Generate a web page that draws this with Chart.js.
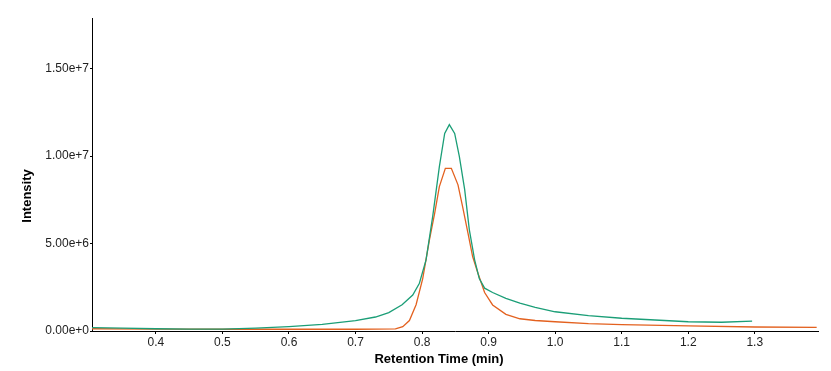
<!DOCTYPE html>
<html>
<head>
<meta charset="utf-8">
<script src="https://cdn.jsdelivr.net/npm/chart.js@4/dist/chart.umd.min.js"></script>
<style>
  html, body { margin: 0; padding: 0; background: #fff; }
  #wrap { width: 831px; height: 371px; }
</style>
</head>
<body>
<div id="wrap"><canvas id="myChart" width="831" height="371"></canvas></div>
<script>
// green trace
var greenTime = [0.304, 0.35, 0.40, 0.45, 0.50, 0.55, 0.60, 0.65, 0.70, 0.73, 0.75, 0.77, 0.786, 0.796, 0.806, 0.816, 0.826, 0.834, 0.841, 0.849, 0.856, 0.864, 0.871, 0.879, 0.886, 0.894, 0.906, 0.926, 0.947, 0.97, 1.00, 1.05, 1.10, 1.15, 1.20, 1.25, 1.296]
var greenIntensity = [1.9e5, 1.6e5, 1.3e5, 1.1e5, 1.1e5, 1.6e5, 2.5e5, 3.8e5, 5.9e5, 8.0e5, 1.05e6, 1.5e6, 2.06e6, 2.73e6, 4.07e6, 6.55e6, 9.4e6, 1.13e7, 1.18e7, 1.13e7, 9.98e6, 8.1e6, 5.8e6, 4.07e6, 3.0e6, 2.45e6, 2.2e6, 1.87e6, 1.59e6, 1.35e6, 1.1e6, 8.8e5, 7.3e5, 6.3e5, 5.3e5, 5.0e5, 5.6e5]

// orange trace
var orangeTime = [0.304, 0.40, 0.50, 0.60, 0.70, 0.76, 0.771, 0.781, 0.791, 0.801, 0.811, 0.819, 0.826, 0.835, 0.844, 0.854, 0.861, 0.869, 0.876, 0.884, 0.894, 0.906, 0.926, 0.947, 0.97, 1.00, 1.05, 1.10, 1.20, 1.30, 1.393]
var orangeIntensity = [1.3e5, 1.1e5, 1.0e5, 1.0e5, 1.0e5, 1.2e5, 2.5e5, 6.0e5, 1.5e6, 3.0e6, 5.2e6, 6.74e6, 8.26e6, 9.3e6, 9.3e6, 8.36e6, 7.1e6, 5.6e6, 4.26e6, 3.3e6, 2.2e6, 1.49e6, 9.5e5, 7.0e5, 6.0e5, 5.3e5, 4.2e5, 3.6e5, 2.9e5, 2.3e5, 2.1e5]

var xTicks = [0.4, 0.5, 0.6, 0.7, 0.8, 0.9, 1.0, 1.1, 1.2, 1.3]
var yTicks = [0, 5e6, 1e7, 1.5e7]

function toPoints(xs, ys) {
    var pts = []
    for (let i = 0; i < xs.length; i++) {
        pts.push({ x: xs[i], y: ys[i] })
    }
    return pts
}

// axis titles drawn by hand so they sit where the original has them
var axisTitles = {
    id: 'axisTitles',
    afterDraw: function(chart) {
        var ctx = chart.ctx
        ctx.save()
        ctx.fillStyle = '#000'
        ctx.font = 'bold 13px "Liberation Sans", Arial, sans-serif'
        ctx.textAlign = 'center'
        ctx.textBaseline = 'middle'
        ctx.fillText('Retention Time (min)', 439, 359)
        ctx.translate(27, 196)
        ctx.rotate(-Math.PI / 2)
        ctx.fillText('Intensity', 0, 0)
        ctx.restore()
    }
}

new Chart("myChart", {
    type: "line",
    data: {
        datasets: [{
            label: 'Trace 1',
            data: toPoints(greenTime, greenIntensity),
            borderColor: "#1b9e77",
            borderWidth: 1.3,
            pointRadius: 0,
            tension: 0,
            fill: false
        }, {
            label: 'Trace 2',
            data: toPoints(orangeTime, orangeIntensity),
            borderColor: "#e3611f",
            borderWidth: 1.3,
            pointRadius: 0,
            tension: 0,
            fill: false
        }]
    },
    options: {
        responsive: false,
        animation: false,
        layout: { padding: { top: 18, right: 13, left: 0, bottom: 0 } },
        plugins: {
            legend: { display: false },
            tooltip: { enabled: false }
        },
        scales: {
            x: {
                type: 'linear',
                min: 0.304,
                max: 1.395,
                afterBuildTicks: function(axis) {
                    axis.ticks = xTicks.map(function(v) { return { value: v } })
                },
                afterFit: function(axis) { axis.height = 40 },
                border: { display: true, color: '#000', width: 1 },
                grid: { display: true, drawOnChartArea: false, drawTicks: true, tickLength: 3, color: '#000' },
                ticks: {
                    color: '#222',
                    padding: 1,
                    font: { family: '"Liberation Sans", Arial, sans-serif', size: 12 },
                    maxRotation: 0,
                    callback: function(v) { return Number(v).toFixed(1) }
                }
            },
            y: {
                type: 'linear',
                min: 0,
                max: 1.79e7,
                afterBuildTicks: function(axis) {
                    axis.ticks = yTicks.map(function(v) { return { value: v } })
                },
                afterFit: function(axis) { axis.width = 92 },
                border: { display: true, color: '#000', width: 1 },
                grid: { display: true, drawOnChartArea: false, drawTicks: true, tickLength: 2, color: '#000' },
                ticks: {
                    color: '#222',
                    padding: 1,
                    font: { family: '"Liberation Sans", Arial, sans-serif', size: 12 },
                    callback: function(v) { return Number(v).toExponential(2) }
                }
            }
        }
    },
    plugins: [axisTitles]
});
</script>
</body>
</html>
